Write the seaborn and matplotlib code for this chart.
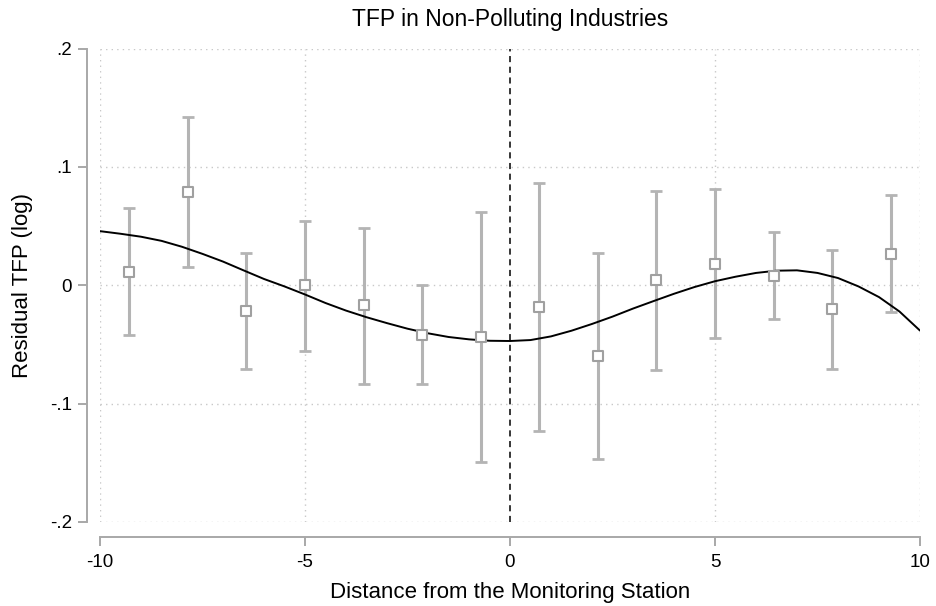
import numpy as np
import pandas as pd
import matplotlib
matplotlib.use("Agg")
import matplotlib.pyplot as plt
import seaborn as sns

# Bin centres (distance from monitoring station)
bin_x = [-9.29, -7.86, -6.43, -5.00, -3.57, -2.14, -0.71,
         0.71, 2.14, 3.57, 5.00, 6.43, 7.86, 9.29]
# Bin mean residual TFP
bin_mean = [0.0113, 0.0784, -0.0219, 0.0003, -0.0169, -0.0418, -0.0433,
            -0.0183, -0.0600, 0.0041, 0.0182, 0.0082, -0.0200, 0.0267]
# Confidence interval bounds
ci_low = [-0.0420, 0.0156, -0.0705, -0.0554, -0.0830, -0.0836, -0.1490,
          -0.1228, -0.1470, -0.0716, -0.0445, -0.0285, -0.0709, -0.0223]
ci_high = [0.0654, 0.1420, 0.0273, 0.0546, 0.0484, 0.0000, 0.0620,
           0.0868, 0.0275, 0.0795, 0.0810, 0.0449, 0.0300, 0.0760]

# Fitted curve
fit_x = [-10, -9.5, -9, -8.5, -8, -7.5, -7, -6.5, -6, -5.5, -5,
         -4.5, -4, -3.5, -3, -2.5, -2, -1.5, -1, -0.5, 0,
         0.5, 1, 1.5, 2, 2.5, 3, 3.5, 4, 4.5, 5,
         5.5, 6, 6.5, 7, 7.5, 8, 8.5, 9, 9.5, 10]
fit_y = [0.0457, 0.0435, 0.0410, 0.0375, 0.0325, 0.0265, 0.0200, 0.0126, 0.0053, -0.0010, -0.0078,
         -0.0150, -0.0214, -0.0270, -0.0320, -0.0367, -0.0406, -0.0437, -0.0457, -0.0469, -0.0471,
         -0.0463, -0.0432, -0.0384, -0.0327, -0.0265, -0.0197, -0.0134, -0.0072, -0.0015, 0.0034,
         0.0072, 0.0104, 0.0123, 0.0126, 0.0104, 0.0061, -0.0010, -0.0100, -0.0222, -0.0383]

x_ticks = [-10, -5, 0, 5, 10]
x_ticklabels = ["-10", "-5", "0", "5", "10"]
y_ticks = [-0.2, -0.1, 0.0, 0.1, 0.2]
y_ticklabels = ["-.2", "-.1", "0", ".1", ".2"]

sns.set_theme(style="white")
plt.rcParams['font.family'] = ['Liberation Sans', 'DejaVu Sans']

W, H = 937, 606
fig = plt.figure(figsize=(W / 100, H / 100), dpi=100)
ax = fig.add_axes([100 / W, 1 - 522 / H, 820 / W, (522 - 48.5) / H])

grid_col = '#C8C8C8'
axis_col = '#A8A8A8'
bar_col = '#B4B4B4'
mk_col = '#A0A0A0'

# gridlines
for yv in y_ticks:
    ax.axhline(yv, color=grid_col, lw=1.0, ls=(0, (1, 3)), zorder=0)
for xv in [-10, -5, 5, 10]:
    ax.axvline(xv, color=grid_col, lw=1.0, ls=(0, (1, 3)), zorder=0)

df_bins = pd.DataFrame({"x": bin_x, "y": bin_mean, "lo": ci_low, "hi": ci_high})
yerr = np.vstack([df_bins["y"] - df_bins["lo"], df_bins["hi"] - df_bins["y"]])
ax.errorbar(df_bins["x"], df_bins["y"], yerr=yerr, fmt='none', ecolor=bar_col,
            elinewidth=2.2, capsize=4.5, capthick=2.0, zorder=2)
sns.scatterplot(data=df_bins, x="x", y="y", ax=ax, marker='s', s=48,
                facecolor='white', edgecolor=mk_col, linewidth=1.5, zorder=4)

df_fit = pd.DataFrame({"x": fit_x, "y": fit_y})
sns.lineplot(data=df_fit, x="x", y="y", ax=ax, color='black', lw=1.4, zorder=3)

ax.axvline(0, color='black', lw=1.1, ls=(0, (4, 3)), zorder=3)

ax.set_xlim(-10, 10)
ax.set_ylim(-0.2, 0.2)
ax.set_xticks(x_ticks)
ax.set_xticklabels(x_ticklabels)
ax.set_yticks(y_ticks)
ax.set_yticklabels(y_ticklabels)

for s in ['top', 'right']:
    ax.spines[s].set_visible(False)
ax.spines['left'].set_position(('outward', 9.5))
ax.spines['bottom'].set_position(('outward', 10.5))
for s in ['left', 'bottom']:
    ax.spines[s].set_color(axis_col)
    ax.spines[s].set_linewidth(1.4)

ax.tick_params(axis='both', which='major', direction='out', length=6.5, width=1.4,
               color=axis_col, labelsize=13.5, labelcolor='black', pad=4,
               left=True, bottom=True)
ax.tick_params(axis='x', pad=6)

ax.set_xlabel("Distance from the Monitoring Station", fontsize=16, labelpad=8, color='black')
ax.set_ylabel("Residual TFP (log)", fontsize=16, labelpad=12, color='black')
ax.set_title("TFP in Non-Polluting Industries", fontsize=16.5, pad=16, color='black')

fig.savefig("out.png", dpi=100, facecolor='white')
